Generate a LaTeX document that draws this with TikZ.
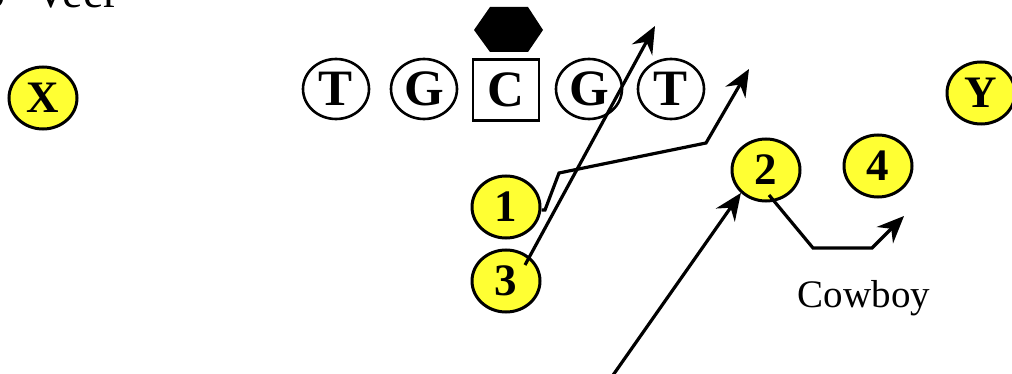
\documentclass[tikz,border=0pt]{standalone}
\usepackage{fontspec}
\setmainfont{Liberation Serif}
\usetikzlibrary{arrows.meta,shapes.geometric}
\definecolor{skill}{RGB}{255,255,51}
\begin{document}
\begin{tikzpicture}[x=1pt,y=-1pt,
  player/.style={ellipse, draw, line width=3pt, fill=skill, minimum width=68pt, minimum height=62pt, inner sep=0pt, font=\fontsize{45}{45}\selectfont\bfseries},
  lineman/.style={ellipse, draw, line width=2.6pt, fill=white, minimum width=66pt, minimum height=60pt, inner sep=0pt, font=\fontsize{51}{51}\selectfont\bfseries},
  snapbox/.style={rectangle, draw, line width=2.6pt, fill=white, minimum width=66pt, minimum height=61pt, inner sep=0pt, font=\fontsize{51}{51}\selectfont\bfseries},
  route/.style={line width=3.2pt, line join=miter, -{Stealth[length=27pt,width=23pt,inset=9pt]}},
  ]
\useasboundingbox (0,0) rectangle (1012,374);
\clip (0,0) rectangle (1012,374);

% title (cut off at the top)
\node[anchor=base east, inner sep=0pt, font=\fontsize{46}{46}\selectfont] (title) at (119,8) {o{\hspace{18pt}} Veer};

% defender
\fill (474,30) -- (490,7) -- (528,7) -- (543,30) -- (528,52) -- (490,52) -- cycle;

% offensive line
\node[lineman] (lt) at (336,89) {T};
\node[lineman] (lg) at (424,89) {G};
\node[snapbox] (c) at (506,90) {C};
\node[lineman] (rg) at (589,89) {G};
\node[lineman] (rt) at (671,89) {T};

% skill players
\node[player] (x) at (43,98) {X};
\node[player] (y) at (981,93) {Y};
\node[player] (p1) at (506,207) {1};
\node[player] (p3) at (506,281) {3};
\node[player] (p2) at (766,170) {2};
\node[player] (p4) at (878,166) {4};

% route end points
\coordinate (e3) at (655,26);
\coordinate (e1) at (749,69);
\coordinate (s2) at (611,378);
\coordinate (ecw) at (904,216);

% routes
\draw[route] (525,265) -- (e3);
\draw[route] (p1.east |- 0,210) -- (545,210) -- (559,173) -- (706,143) -- (e1);
\draw[route] (s2) -- (p2.south west);
\draw[route] (769,195) -- (813,248) -- (872,248) -- (ecw);

\node[font=\fontsize{39}{39}\selectfont] (cowboy) at (864,298) {Cowboy};
\end{tikzpicture}
\end{document}
